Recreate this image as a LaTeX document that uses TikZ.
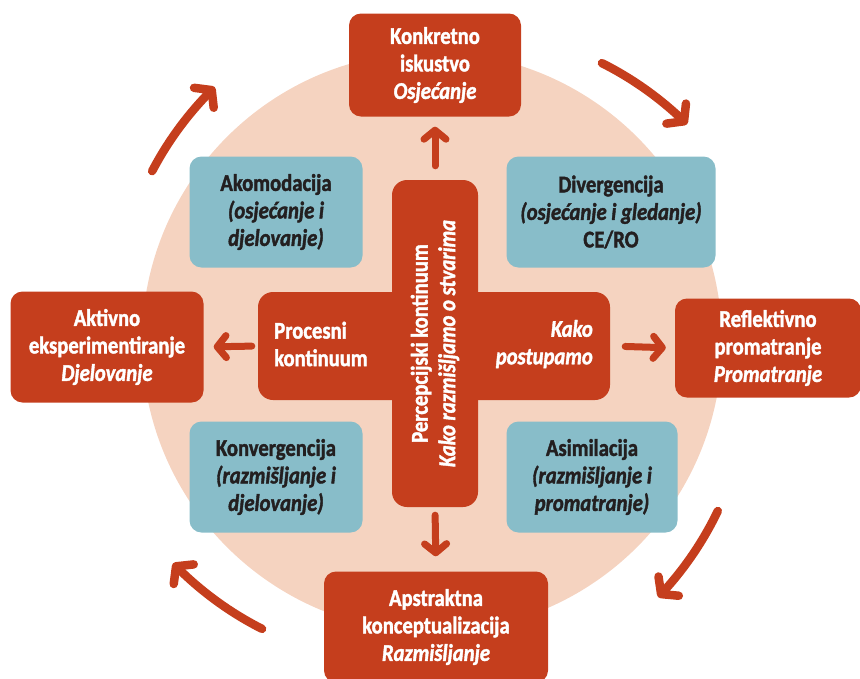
\documentclass[tikz,border=0pt]{standalone}
\usepackage{fontspec}
\setmainfont{Carlito}[FakeStretch=0.86, BoldFeatures={FakeBold=1.6}, BoldItalicFeatures={FakeBold=1.6}]
\usetikzlibrary{arrows.meta}
\definecolor{kred}{RGB}{197,62,29}
\definecolor{kpeach}{RGB}{245,211,192}
\definecolor{kblue}{RGB}{136,189,201}
\definecolor{kdark}{RGB}{35,31,32}

\begin{document}
\begin{tikzpicture}[x=1pt,y=-1pt,
    font=\fontsize{24}{27.5}\selectfont\bfseries,
    redbox/.style={fill=kred, text=white, rounded corners=12pt, align=center, inner sep=0pt},
    bluebox/.style={fill=kblue, text=kdark, rounded corners=12pt, align=center, inner sep=0pt},
    bar/.style={fill=kred, rounded corners=15pt, inner sep=0pt},
    bartext/.style={text=white, inner sep=0pt},
    shortarrow/.style={draw=kred, line width=7pt, line cap=round, -{Straight Barb[length=9pt,width=22pt,round]}},
    cyclearrow/.style={draw=kred, line width=8.5pt, line cap=round, -{Straight Barb[length=11pt,width=28pt,round]}}]
  \useasboundingbox (0,0) rectangle (860,678);
  % background disc
  \node (disc) at (432,342) [circle, fill=kpeach, minimum size=580pt, inner sep=0pt] {};
  % the four stages
  \node (konkretno) at (435,65) [redbox, minimum width=172pt, minimum height=103pt]
    {Konkretno\\iskustvo\\\textit{Osjećanje}};
  \node (aktivno) at (107,347) [redbox, minimum width=193pt, minimum height=111pt]
    {Aktivno\\eksperimentiranje\\\textit{Djelovanje}};
  \node (reflektivno) at (768,348) [redbox, minimum width=186pt, minimum height=99pt]
    {Reflektivno\\promatranje\\\textit{Promatranje}};
  \node (apstraktna) at (436,627) [redbox, minimum width=224pt, minimum height=111pt]
    {Apstraktna\\konceptualizacija\\\textit{Razmišljanje}};
  % learning styles
  \node (akomodacija) at (276,212) [bluebox, minimum width=173pt, minimum height=111pt]
    {Akomodacija\\\textit{(osjećanje i}\\\textit{djelovanje)}};
  \node (divergencija) at (611,212) [bluebox, minimum width=209pt, minimum height=111pt]
    {Divergencija\\\textit{(osjećanje i gledanje)}\\CE/RO};
  \node (konvergencija) at (276,477) [bluebox, minimum width=173pt, minimum height=111pt]
    {Konvergencija\\\textit{(razmišljanje i}\\\textit{djelovanje)}};
  \node (asimilacija) at (592,477) [bluebox, minimum width=171pt, minimum height=111pt]
    {Asimilacija\\\textit{(razmišljanje i}\\\textit{promatranje)}};
  % central cross
  \node (hbar) at (434,346) [bar, minimum width=352pt, minimum height=108pt] {};
  \node (vbar) at (435,343.5) [bar, minimum width=86pt, minimum height=327pt] {};
  \node (vtext) at (vbar.center) [bartext, rotate=90, align=center]
    {Percepcijski kontinuum\\\textit{Kako razmišljamo o stvarima}};
  \node (procesni) at (274,344) [bartext, anchor=west, align=left] {Procesni\\kontinuum};
  \node (postupamo) at (593,344) [bartext, anchor=east, align=right] {\textit{Kako}\\\textit{postupamo}};
  % short arrows
  \draw[shortarrow, shorten <=14pt, shorten >=10pt] (vbar.north) -- (konkretno.south);
  \draw[shortarrow, shorten <=8pt, shorten >=15pt] (vbar.south) -- (apstraktna.north);
  \draw[shortarrow, shorten <=6pt, shorten >=10pt] (hbar.west) -- (aktivno.east);
  \draw[shortarrow, shorten <=15pt, shorten >=9pt] (hbar.east) -- (reflektivno.west);
  % cycle arrows
  \foreach \a/\b in {212/230,301/319,30/48,121/140}
    \draw[cyclearrow] plot[domain=\a:\b, samples=20, smooth]
      ({432+(330+8*(\x-\a)/(\b-\a))*cos(\x)},{346+(330+8*(\x-\a)/(\b-\a))*sin(\x)});
\end{tikzpicture}
\end{document}
